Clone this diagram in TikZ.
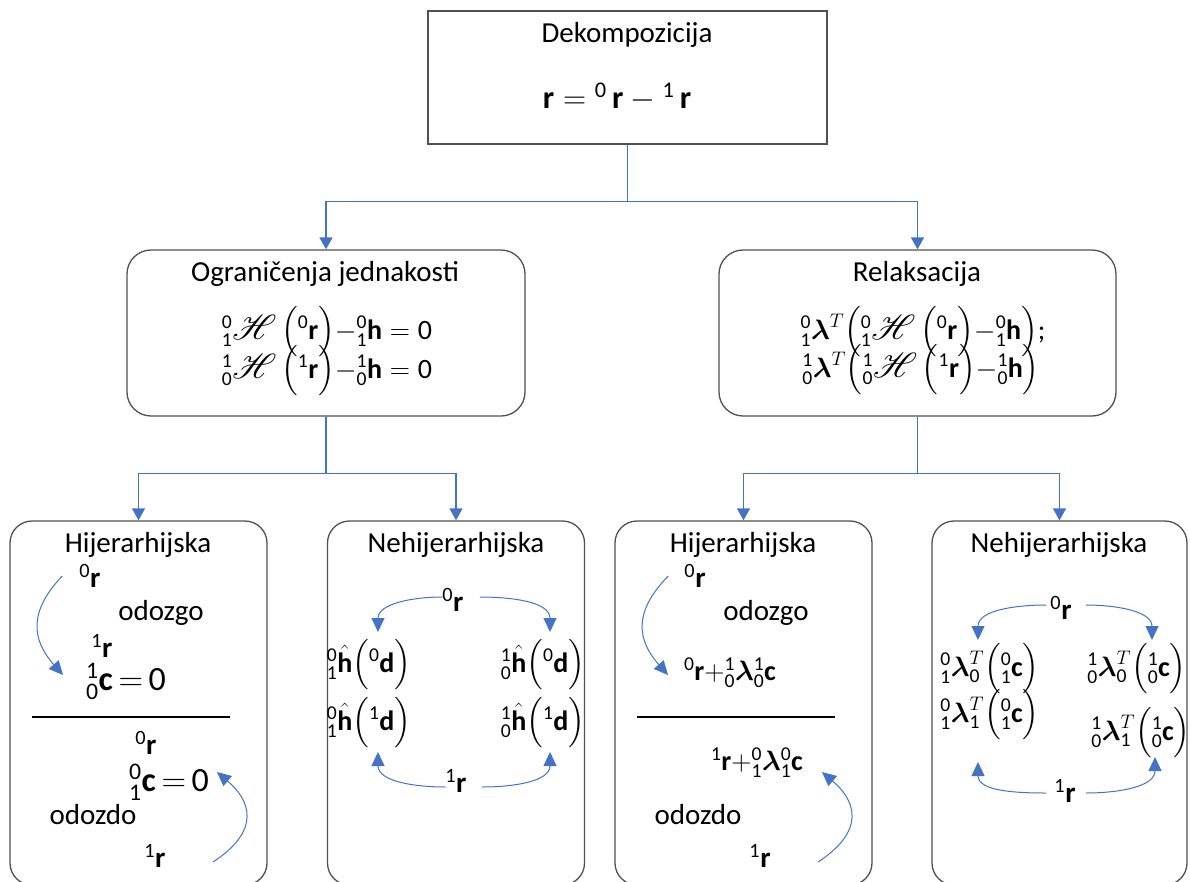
\documentclass[tikz,border=0pt]{standalone}
\usepackage{fix-cm}
\usepackage{amsmath,amssymb}
\usepackage{mathrsfs}
\usepackage{fontspec}
\setmainfont{Carlito}
\usetikzlibrary{arrows.meta}

\definecolor{linkblue}{HTML}{4472C4}
\definecolor{edgegray}{HTML}{505050}

% indices written before a symbol, digits in the text font
\newcommand{\preidx}[2]{{}^{\text{#1}}_{\text{#2}}}
\newcommand{\presup}[1]{{}^{\text{#1}}}
\newcommand{\scrH}{\text{\scalebox{1.4}{$\mathscr{H}$}}}

\begin{document}
\begin{tikzpicture}[x=1pt, y=-1pt,
	every node/.style={font=\fontsize{29}{34}\selectfont, inner sep=0pt},
	plainbox/.style={draw=edgegray, line width=1.3pt, fill=white},
	roundbox/.style={plainbox, rounded corners=24pt},
	lowbox/.style={plainbox, rounded corners=22pt, minimum width=257pt, minimum height=364pt},
	link/.style={draw=linkblue, line width=1.5pt, -{Triangle[length=12pt,width=13pt]}},
	curv/.style={draw=linkblue, line width=1pt, -{Triangle[length=14pt,width=13pt]}},
	sepline/.style={draw=black, line width=1.3pt},
	big/.style={font=\fontsize{34}{40}\selectfont},
	top/.style={font=\fontsize{32}{38}\selectfont},
	mid/.style={font=\fontsize{28}{32}\selectfont}]
	\useasboundingbox (0,0) rectangle (1190,881);
	% boxes
	\node[plainbox, minimum width=399pt, minimum height=133pt] (dek) at (627.5,77.5) {};
	\node[roundbox, minimum width=398pt, minimum height=166pt] (ogr) at (326,333) {};
	\node[roundbox, minimum width=397pt, minimum height=166pt] (rel) at (917.5,333) {};
	\node[lowbox] (hij1) at (138.5,703) {};
	\node[lowbox] (neh1) at (456,703) {};
	\node[lowbox] (hij2) at (743.5,703) {};
	\node[lowbox, minimum width=255pt] (neh2) at (1059.5,703) {};
	% connectors
	\draw[link] (dek.south) -- ++(0,57) -| (ogr.north);
	\draw[link] (dek.south) -- ++(0,57) -| (rel.north);
	\draw[link] (ogr.south) -- ++(0,57) -| (hij1.north);
	\draw[link] (ogr.south) -- ++(0,57) -| (neh1.north);
	\draw[link] (rel.south) -- ++(0,57) -| (hij2.north);
	\draw[link] (rel.south) -- ++(0,57) -| (neh2.north);
	% top
	\node (dekt) at (627,35) {Dekompozicija};
	\node[top] (dekf) at (617,97) {$\mathbf{r}=\presup{0}\,\mathbf{r}-\presup{1}\,\mathbf{r}$};
	% equality constraints
	\node (ogrt) at (325,274) {Ograničenja jednakosti};
	\node[mid] (ogr1) at (327,332) {$\preidx{0}{1}\scrH\,\Bigl(\presup{0}\mathbf{r}\Bigr){-}\preidx{0}{1}\mathbf{h}=\text{0}$};
	\node[mid] (ogr2) at (327,371) {$\preidx{1}{0}\scrH\,\Bigl(\presup{1}\mathbf{r}\Bigr){-}\preidx{1}{0}\mathbf{h}=\text{0}$};
	% relaxation
	\node (relt) at (917,274) {Relaksacija};
	\node[mid] (rel1) at (923,332) {$\preidx{0}{1}\boldsymbol{\lambda}^{T}\Bigl(\preidx{0}{1}\scrH\,\Bigl(\presup{0}\mathbf{r}\Bigr){-}\preidx{0}{1}\mathbf{h}\Bigr)$;};
	\node[mid] (rel2) at (921,370) {$\preidx{1}{0}\boldsymbol{\lambda}^{T}\Bigl(\preidx{1}{0}\scrH\,\Bigl(\presup{1}\mathbf{r}\Bigr){-}\preidx{1}{0}\mathbf{h}\Bigr)$};
	% hierarchical, left
	\node (h1t) at (138,545) {Hijerarhijska};
	\node (h1a) at (90,576) {$\presup{0}\mathbf{r}$};
	\node (h1b) at (161,613) {odozgo};
	\node (h1c) at (102,646) {$\presup{1}\mathbf{r}$};
	\node[big] (h1d) at (126,681) {$\preidx{1}{0}\mathbf{c}\,{=}\,\text{0}$};
	\draw[sepline] (32,717) -- (230,717);
	\node (h1e) at (146,743) {$\presup{0}\mathbf{r}$};
	\node[big] (h1f) at (169,782) {$\preidx{0}{1}\mathbf{c}\,{=}\,\text{0}$};
	\node (h1g) at (93,815) {odozdo};
	\node (h1h) at (155,856) {$\presup{1}\mathbf{r}$};
	\coordinate (h1p) at (63,675);
	\coordinate (h1q) at (213,862);
	\coordinate (h1s) at (217,772);
	\draw[curv] ([xshift=-17pt]h1a.west) .. controls (28,612) and (32,640) .. (h1p);
	\draw[curv] (h1q) .. controls (262,830) and (250,800) .. (h1s);
	% non-hierarchical, left
	\node (n1t) at (456,545) {Nehijerarhijska};
	\node (n0r) at (453,600) {$\presup{0}\mathbf{r}$};
	\node[mid] (nl1) at (369,665) {$\preidx{0}{1}\hat{\mathbf{h}}\Bigl(\presup{0}\mathbf{d}\Bigr)$};
	\node[mid] (nr1) at (543,665) {$\preidx{1}{0}\hat{\mathbf{h}}\Bigl(\presup{0}\mathbf{d}\Bigr)$};
	\node[mid] (nl2) at (369,723) {$\preidx{0}{1}\hat{\mathbf{h}}\Bigl(\presup{1}\mathbf{d}\Bigr)$};
	\node[mid] (nr2) at (543,723) {$\preidx{1}{0}\hat{\mathbf{h}}\Bigl(\presup{1}\mathbf{d}\Bigr)$};
	\node (n1r) at (456,781) {$\presup{1}\mathbf{r}$};
	\coordinate (ntl) at (378,632);
	\coordinate (ntr) at (550,632);
	\coordinate (nbl) at (378,752);
	\coordinate (nbr) at (550,752);
	\draw[curv] ([yshift=3pt]n0r.west) to[out=180,in=90] (ntl);
	\draw[curv] ([xshift=16pt,yshift=3pt]n0r.east) to[out=0,in=90] (ntr);
	\draw[curv] ([yshift=-6pt]n1r.west) to[out=180,in=-90] (nbl);
	\draw[curv] ([xshift=15pt,yshift=-6pt]n1r.east) to[out=0,in=-90] (nbr);
	% hierarchical, right
	\node (h2t) at (743,545) {Hijerarhijska};
	\node (h2a) at (695,576) {$\presup{0}\mathbf{r}$};
	\node (h2b) at (766,613) {odozgo};
	\node[mid] (h2c) at (730,673) {$\presup{0}\mathbf{r}{+}\preidx{1}{0}\boldsymbol{\lambda}\preidx{1}{0}\mathbf{c}$};
	\draw[sepline] (637,717) -- (835,717);
	\node[mid] (h2d) at (757,763) {$\presup{1}\mathbf{r}{+}\preidx{0}{1}\boldsymbol{\lambda}\preidx{0}{1}\mathbf{c}$};
	\node (h2e) at (698,815) {odozdo};
	\node (h2f) at (760,856) {$\presup{1}\mathbf{r}$};
	\coordinate (h2p) at (668,675);
	\coordinate (h2q) at (818,862);
	\coordinate (h2s) at (822,772);
	\draw[curv] ([xshift=-16pt]h2a.west) .. controls (633,612) and (637,640) .. (h2p);
	\draw[curv] (h2q) .. controls (867,830) and (855,800) .. (h2s);
	% non-hierarchical, right
	\node (n2t) at (1059,545) {Nehijerarhijska};
	\node (m0r) at (1061,608) {$\presup{0}\mathbf{r}$};
	\node[mid] (ml1) at (990,669) {$\preidx{0}{1}\boldsymbol{\lambda}^T_{\text{0}}\Bigl(\preidx{0}{1}\mathbf{c}\Bigr)$};
	\node[mid] (mr1) at (1137,669) {$\preidx{1}{0}\boldsymbol{\lambda}^T_{\text{0}}\Bigl(\preidx{1}{0}\mathbf{c}\Bigr)$};
	\node[mid] (ml2) at (990,715) {$\preidx{0}{1}\boldsymbol{\lambda}^T_{\text{1}}\Bigl(\preidx{0}{1}\mathbf{c}\Bigr)$};
	\node[mid] (mr2) at (1141,733) {$\preidx{1}{0}\boldsymbol{\lambda}^T_{\text{1}}\Bigl(\preidx{1}{0}\mathbf{c}\Bigr)$};
	\node (m1r) at (1065,791) {$\presup{1}\mathbf{r}$};
	\coordinate (mtl) at (978,640);
	\coordinate (mtr) at (1152,640);
	\coordinate (mbl) at (978,762);
	\coordinate (mbr) at (1155,757);
	\draw[curv] ([xshift=-4pt,yshift=3pt]m0r.west) to[out=180,in=90] (mtl);
	\draw[curv] ([xshift=14pt,yshift=3pt]m0r.east) to[out=0,in=90] (mtr);
	\draw[curv] ([xshift=-8pt,yshift=-2pt]m1r.west) to[out=180,in=-90] (mbl);
	\draw[curv] ([xshift=10pt,yshift=-2pt]m1r.east) to[out=0,in=-90] (mbr);
\end{tikzpicture}
\end{document}
